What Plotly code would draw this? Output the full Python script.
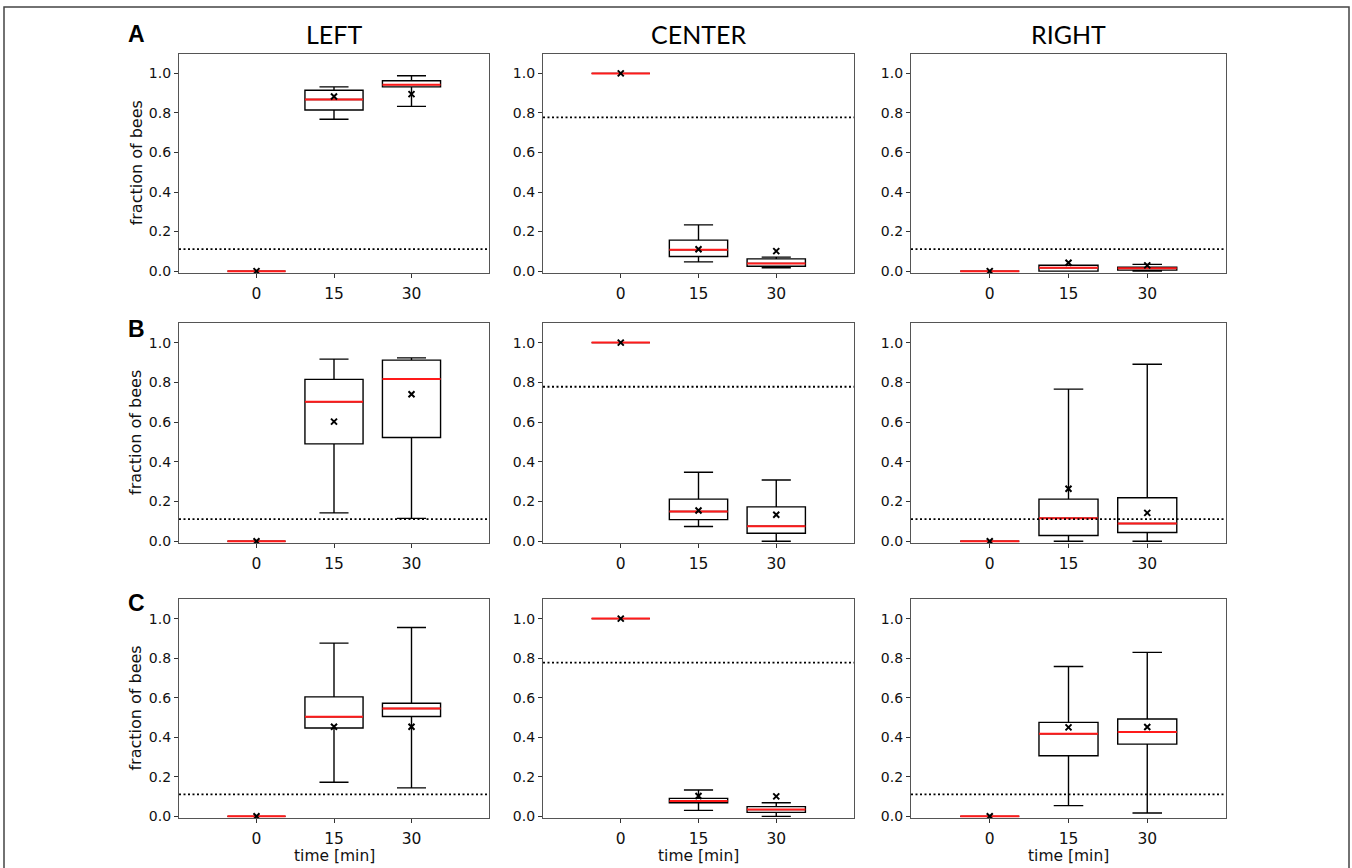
import plotly.graph_objects as go

# ---------------- data ----------------
time_labels = ["0", "15", "30"]          # x categories (minutes)
positions = [1, 2, 3]                     # box positions on the x axis
row_labels = ["A", "B", "C"]
col_titles = ["LEFT", "CENTER", "RIGHT"]
chance_level = [1 / 9, 7 / 9, 1 / 9]      # dotted reference line per column

# each stat: rows (A,B,C) x columns (LEFT,CENTER,RIGHT) x times (0,15,30)
whisker_low = [
    [[0, 0.768, 0.833], [1, 0.047, 0.017], [0, 0.000, 0.000]],
    [[0, 0.143, 0.115], [1, 0.074, 0.000], [0, 0.000, 0.000]],
    [[0, 0.172, 0.144], [1, 0.030, 0.000], [0, 0.054, 0.017]],
]
quart1 = [
    [[0, 0.815, 0.932], [1, 0.074, 0.025], [0, 0.000, 0.005]],
    [[0, 0.490, 0.522], [1, 0.109, 0.040], [0, 0.029, 0.044]],
    [[0, 0.447, 0.505], [1, 0.069, 0.020], [0, 0.306, 0.365]],
]
medians = [
    [[0, 0.868, 0.943], [1, 0.108, 0.039], [0, 0.017, 0.014]],
    [[0, 0.702, 0.817], [1, 0.150, 0.076], [0, 0.116, 0.089]],
    [[0, 0.503, 0.545], [1, 0.077, 0.034], [0, 0.418, 0.426]],
]
quart3 = [
    [[0, 0.915, 0.963], [1, 0.157, 0.062], [0, 0.030, 0.020]],
    [[0, 0.815, 0.912], [1, 0.212, 0.173], [0, 0.212, 0.219]],
    [[0, 0.604, 0.572], [1, 0.091, 0.049], [0, 0.475, 0.492]],
]
whisker_high = [
    [[0, 0.932, 0.988], [1, 0.234, 0.071], [0, 0.030, 0.034]],
    [[0, 0.917, 0.923], [1, 0.347, 0.308], [0, 0.766, 0.891]],
    [[0, 0.876, 0.955], [1, 0.133, 0.069], [0, 0.758, 0.829]],
]
means = [
    [[0, 0.883, 0.895], [1, 0.111, 0.101], [0, 0.042, 0.029]],
    [[0, 0.602, 0.740], [1, 0.155, 0.133], [0, 0.264, 0.143]],
    [[0, 0.453, 0.453], [1, 0.103, 0.101], [0, 0.450, 0.452]],
]

y_ticks = [0.0, 0.2, 0.4, 0.6, 0.8, 1.0]

# ---------------- layout geometry (pixels) ----------------
W, H = 1352, 868
col_px = [(179, 489), (543, 854), (911, 1226)]
row_px = [(54, 275), (325, 547), (603, 824)]
BOX_W = 0.75


def fx(p):
    return p / W


def fy(p):
    return 1 - p / H


fig = go.Figure()
layout = {}
annotations = []

for r in range(3):
    for c in range(3):
        k = r * 3 + c + 1
        xa = "x" if k == 1 else f"x{k}"
        ya = "y" if k == 1 else f"y{k}"
        # box (black outline)
        fig.add_trace(go.Box(
            x=positions,
            q1=quart1[r][c], median=medians[r][c], q3=quart3[r][c],
            lowerfence=whisker_low[r][c], upperfence=whisker_high[r][c],
            width=BOX_W, whiskerwidth=0.5,
            line=dict(color="black", width=1.4),
            fillcolor="rgba(255,255,255,0)",
            boxpoints=False, showlegend=False, hoverinfo="skip",
            xaxis=xa, yaxis=ya,
        ))
        # red median lines
        mx, my = [], []
        for p, m in zip(positions, medians[r][c]):
            mx += [p - BOX_W / 2, p + BOX_W / 2, None]
            my += [m, m, None]
        fig.add_trace(go.Scatter(
            x=mx, y=my, mode="lines",
            line=dict(color="#ff1a1a", width=2),
            showlegend=False, hoverinfo="skip", xaxis=xa, yaxis=ya,
        ))
        # chance line
        fig.add_trace(go.Scatter(
            x=[0, 4], y=[chance_level[c], chance_level[c]], mode="lines",
            line=dict(color="black", width=1.8, dash="2px,2.5px"),
            showlegend=False, hoverinfo="skip", xaxis=xa, yaxis=ya,
        ))
        # mean markers
        fig.add_trace(go.Scatter(
            x=positions, y=means[r][c], mode="markers",
            marker=dict(symbol="x-thin", size=6, color="black",
                        line=dict(color="black", width=2)),
            showlegend=False, hoverinfo="skip", xaxis=xa, yaxis=ya,
        ))

        x0, x1 = col_px[c]
        y0, y1 = row_px[r]
        axis_common = dict(
            showline=True, linecolor="#555555", linewidth=1.2, mirror=True,
            ticks="outside", ticklen=4, tickwidth=1, tickcolor="#333333",
            showgrid=False, zeroline=False,
        )
        layout["xaxis" if k == 1 else f"xaxis{k}"] = dict(
            axis_common,
            domain=[fx(x0), fx(x1)], anchor=ya, range=[0, 4],
            tickvals=positions, ticktext=time_labels, ticklabelstandoff=2,
            tickfont=dict(family="DejaVu Sans", color="#111111", size=15.5),
        )
        layout["yaxis" if k == 1 else f"yaxis{k}"] = dict(
            axis_common,
            domain=[fy(y1), fy(y0)], anchor=xa, range=[-0.01, 1.1],
            tickvals=y_ticks, ticktext=[f"{v:.1f}" for v in y_ticks],
            tickfont=dict(family="DejaVu Sans", color="#111111", size=14),
        )

# column titles
for c, t in enumerate(col_titles):
    x0, x1 = col_px[c]
    annotations.append(dict(
        text=t, x=fx((x0 + x1) / 2), y=fy(34), xref="paper", yref="paper",
        xanchor="center", yanchor="middle", showarrow=False,
        font=dict(family="Lato", size=25, color="black"),
    ))

# row letters and y titles
letter_y = [34, 331, 607]
for r, lab in enumerate(row_labels):
    annotations.append(dict(
        text=f"<b>{lab}</b>", x=fx(136), y=fy(letter_y[r]), xref="paper", yref="paper",
        xanchor="center", yanchor="middle", showarrow=False,
        font=dict(family="Liberation Sans", size=23, color="black"),
    ))
    y0, y1 = row_px[r]
    annotations.append(dict(
        text="fraction of bees", x=fx(136), y=fy((y0 + y1) / 2),
        xref="paper", yref="paper", xanchor="center", yanchor="middle",
        textangle=-90, showarrow=False,
        font=dict(family="DejaVu Sans", size=16, color="#111111"),
    ))

# x titles under bottom row
for c in range(3):
    x0, x1 = col_px[c]
    annotations.append(dict(
        text="time [min]", x=fx((x0 + x1) / 2), y=fy(872),
        xref="paper", yref="paper", xanchor="center", yanchor="bottom",
        showarrow=False, borderpad=0,
        font=dict(family="DejaVu Sans", size=15.5, color="#111111"),
    ))

fig.update_layout(
    width=W, height=H,
    margin=dict(l=0, r=0, t=0, b=0),
    paper_bgcolor="white", plot_bgcolor="white",
    showlegend=False,
    annotations=annotations,
    shapes=[dict(type="rect", xref="paper", yref="paper",
                 x0=fx(4), x1=fx(1349), y0=-0.02, y1=fy(7),
                 line=dict(color="#444444", width=1.5))],
    **layout,
)

fig.write_html("out.html")
